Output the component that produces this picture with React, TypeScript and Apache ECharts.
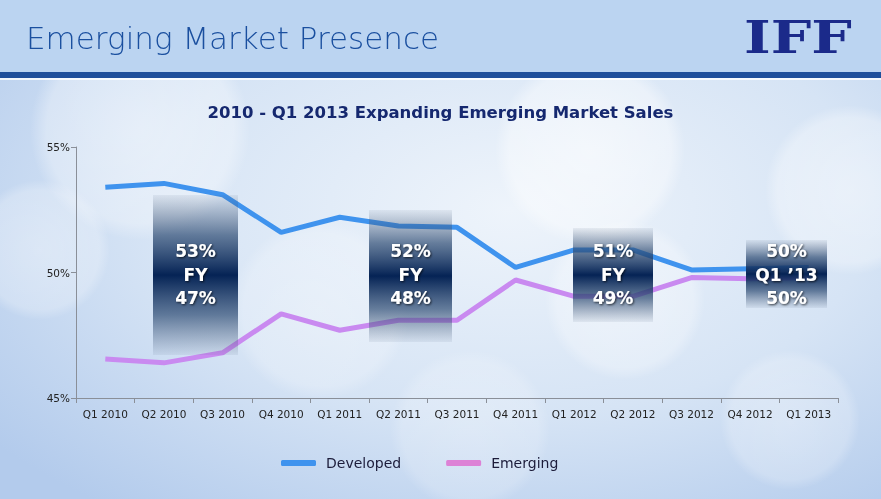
import React, { useEffect, useRef } from "react";
import * as echarts from "echarts";

const categories = [
  "Q1 2010", "Q2 2010", "Q3 2010", "Q4 2010",
  "Q1 2011", "Q2 2011", "Q3 2011", "Q4 2011",
  "Q1 2012", "Q2 2012", "Q3 2012", "Q4 2012", "Q1 2013",
];
const developed = [53.4, 53.55, 53.1, 51.6, 52.2, 51.85, 51.8, 50.2, 50.9, 50.9, 50.1, 50.15, 50.2];
const emerging = [46.55, 46.4, 46.8, 48.35, 47.7, 48.1, 48.1, 49.7, 49.05, 49.05, 49.8, 49.75, 49.8];
const yTicks = [45, 50, 55];

const boxLabels = [
  ["53%", "FY", "47%"],
  ["52%", "FY", "48%"],
  ["51%", "FY", "49%"],
  ["50%", "Q1 \u201913", "50%"],
];
const boxGeom = [
  { x: 153, y: 195, w: 85, h: 160 },
  { x: 369, y: 210, w: 83, h: 132 },
  { x: 573, y: 228, w: 80, h: 94 },
  { x: 746, y: 240, w: 81, h: 68 },
];

const FONT = "DejaVu Sans";

export default function App() {
  const ref = useRef<HTMLDivElement>(null);
  useEffect(() => {
    if (!ref.current) return;
    const chart = echarts.init(ref.current, null, { renderer: "svg" });

    const bg: any[] = [
      {
        type: "rect", z: -20, silent: true,
        shape: { x: 0, y: 0, width: 881, height: 499 },
        style: {
          fill: new echarts.graphic.RadialGradient(0.58, 0.42, 0.75, [
            { offset: 0, color: "#eef4fb" },
            { offset: 0.55, color: "#d6e4f5" },
            { offset: 1, color: "#b3cbec" },
          ]),
        },
      },
    ];
    const bokeh = [
      [140, 130, 110, 0.45], [40, 250, 70, 0.35], [590, 150, 95, 0.55],
      [625, 300, 80, 0.4], [850, 190, 85, 0.45], [320, 310, 90, 0.3],
      [470, 430, 80, 0.25], [790, 420, 70, 0.3],
    ];
    bokeh.forEach(([cx, cy, r, o]) => {
      bg.push({
        type: "circle", z: -19, silent: true,
        shape: { cx, cy, r },
        style: {
          fill: new echarts.graphic.RadialGradient(0.5, 0.5, 0.5, [
            { offset: 0, color: `rgba(255,255,255,${o})` },
            { offset: 0.85, color: `rgba(255,255,255,${o * 0.7})` },
            { offset: 1, color: "rgba(255,255,255,0)" },
          ]),
        },
      });
    });
    bg.push(
      {
        type: "rect", z: -18, silent: true,
        shape: { x: 0, y: 0, width: 881, height: 73 },
        style: { fill: "#bbd4f1" },
      },
      {
        type: "rect", z: -17, silent: true,
        shape: { x: 0, y: 72, width: 881, height: 6 },
        style: { fill: "#1f4f9b" },
      },
      {
        type: "rect", z: -17, silent: true,
        shape: { x: 0, y: 78, width: 881, height: 2 },
        style: { fill: "rgba(255,255,255,0.8)" },
      },
      {
        type: "text", z: 5, left: 26, top: 22,
        style: {
          text: "Emerging Market Presence",
          font: `300 31px "${FONT}"`,
          fill: "#1a4f9f",
        },
      },
      {
        type: "text", z: 5, x: 744, y: 15, scaleX: 1.36, scaleY: 1.05,
        style: {
          text: "IFF",
          font: `bold 42px "DejaVu Serif"`,
          fill: "#1b2a8a",
        },
      },
    );

    const boxes: any[] = [];
    boxGeom.forEach((b, i) => {
      boxes.push({
        type: "rect", z: 10, silent: true,
        shape: { x: b.x, y: b.y, width: b.w, height: b.h },
        style: {
          fill: new echarts.graphic.LinearGradient(0, 0, 0, 1, [
            { offset: 0, color: "rgba(70,90,120,0.08)" },
            { offset: 0.25, color: "rgba(45,75,115,0.7)" },
            { offset: 0.5, color: "rgba(5,35,85,1)" },
            { offset: 0.75, color: "rgba(45,75,115,0.7)" },
            { offset: 1, color: "rgba(70,90,120,0.08)" },
          ]),
        },
      });
      const cx = b.x + b.w / 2;
      boxLabels[i].forEach((t, j) => {
        boxes.push({
          type: "text", z: 11, silent: true,
          x: cx, y: 251 + j * 23.5,
          style: {
            text: t,
            font: `bold 17px "${FONT}"`,
            fill: "#ffffff",
            align: "center",
            verticalAlign: "middle",
            textShadowColor: "rgba(0,0,0,0.7)",
            textShadowBlur: 2,
            textShadowOffsetX: 1,
            textShadowOffsetY: 1,
          },
        });
      });
    });

    chart.setOption({
      animation: false,
      title: {
        text: "2010 - Q1 2013 Expanding Emerging Market Sales",
        left: "center",
        top: 99,
        textStyle: { fontFamily: FONT, fontWeight: "bold", fontSize: 16.5, color: "#15286f" },
      },
      grid: { left: 76, right: 43, top: 147, bottom: 101 },
      legend: {
        left: 276,
        top: 451,
        icon: "roundRect",
        itemWidth: 35,
        itemHeight: 6,
        itemGap: 45,
        textStyle: { fontFamily: FONT, fontSize: 14, color: "#1c1c3a", padding: [0, 0, 0, 5] },
        data: [
          { name: "Developed", itemStyle: { color: "#3f93ee" } },
          { name: "Emerging", itemStyle: { color: "#dd82d6" } },
        ],
      },
      xAxis: {
        type: "category",
        data: categories,
        boundaryGap: true,
        axisLine: { lineStyle: { color: "#8a8f98" } },
        axisTick: { show: true, length: 5, lineStyle: { color: "#8a8f98" } },
        axisLabel: { fontFamily: FONT, fontSize: 10.5, color: "#222", margin: 10, interval: 0 },
      },
      yAxis: {
        type: "value",
        min: yTicks[0],
        max: yTicks[yTicks.length - 1],
        interval: 5,
        axisLine: { show: true, lineStyle: { color: "#8a8f98" } },
        axisTick: { show: true, length: 5, lineStyle: { color: "#8a8f98" } },
        splitLine: { show: false },
        axisLabel: { fontFamily: FONT, fontSize: 10.5, color: "#222", formatter: "{value}%", margin: 6 },
      },
      series: [
        {
          name: "Developed", type: "line", data: developed, symbol: "none",
          lineStyle: { width: 5, color: "#3f93ee" }, itemStyle: { color: "#3f93ee" }, z: 3,
        },
        {
          name: "Emerging", type: "line", data: emerging, symbol: "none",
          lineStyle: { width: 5, color: "#c98af0" }, itemStyle: { color: "#c98af0" }, z: 3,
        },
      ],
      graphic: [...bg, ...boxes],
    });
    return () => chart.dispose();
  }, []);
  return (
    <div
      ref={ref}
      style={{ position: "fixed", left: 0, top: 0, width: 881, height: 499 }}
    />
  );
}
